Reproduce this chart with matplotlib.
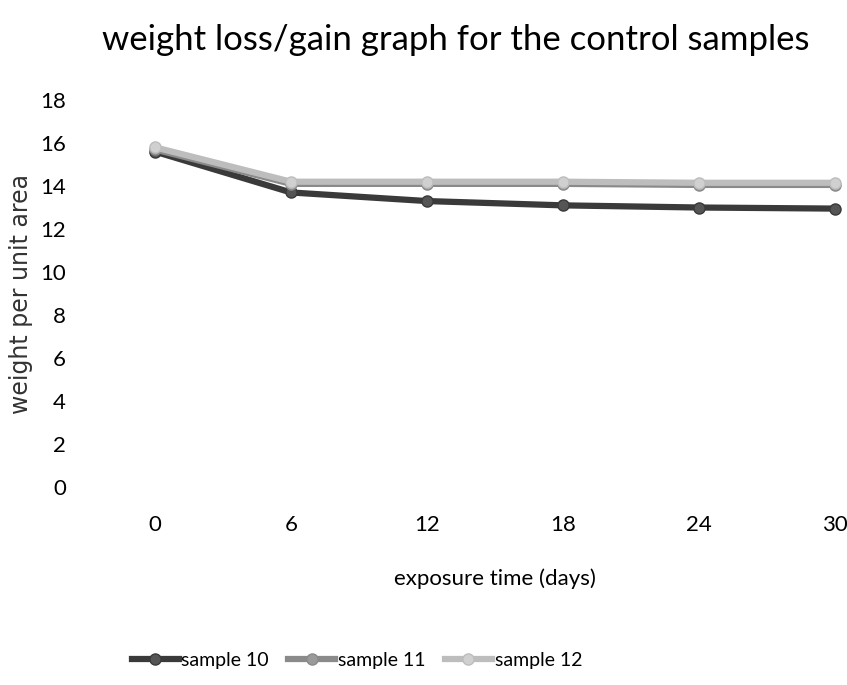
import matplotlib

matplotlib.use("Agg")
import matplotlib.pyplot as plt

days = [0, 6, 12, 18, 24, 30]
sample_10 = [15.6, 13.7, 13.3, 13.1, 13.0, 12.95]
sample_11 = [15.7, 14.1, 14.1, 14.1, 14.05, 14.05]
sample_12 = [15.8, 14.2, 14.2, 14.2, 14.15, 14.15]
series_names = ["sample 10", "sample 11", "sample 12"]
y_ticks = [0, 2, 4, 6, 8, 10, 12, 14, 16, 18]

plt.rcParams["font.family"] = ["Lato", "DejaVu Sans"]

fig = plt.figure(figsize=(8.47, 6.85), dpi=100)
ax = fig.add_axes([0.183, 0.289, 0.803, 0.565])

styles = [
    dict(color="#3a3a3a", mfc="#555555"),
    dict(color="#8a8a8a", mfc="#9a9a9a"),
    dict(color="#bdbdbd", mfc="#d0d0d0"),
]
for vals, name, st in zip([sample_10, sample_11, sample_12], series_names, styles):
    ax.plot(days, vals, color=st["color"], lw=4.5, marker="o", ms=8,
            mfc=st["mfc"], mec=st["color"], label=name, clip_on=False)

ax.set_xlim(0, 30)
ax.set_ylim(0, 18)
ax.set_xticks(days)
ax.set_yticks(y_ticks)
for s in ax.spines.values():
    s.set_visible(False)
ax.tick_params(length=0, labelsize=16)
ax.tick_params(axis="x", pad=20)
ax.tick_params(axis="y", pad=64)
for lab in ax.get_yticklabels():
    lab.set_horizontalalignment("right")

ax.set_xlabel("exposure time (days)", fontsize=16, labelpad=24)
fig.text(0.025, 0.571, "weight per unit area", rotation=90, fontsize=17,
         ha="center", va="center", family=["DejaVu Sans"], color="#333333")

fig.suptitle("weight loss/gain graph for the control samples", fontsize=25,
             x=0.538, y=0.965)

fig.legend(loc="center left", bbox_to_anchor=(0.135, 0.036), ncol=3, frameon=False,
           fontsize=14, handlelength=2.4, columnspacing=1.0, handletextpad=0.15)

fig.savefig("out.png", dpi=100, facecolor="white")
